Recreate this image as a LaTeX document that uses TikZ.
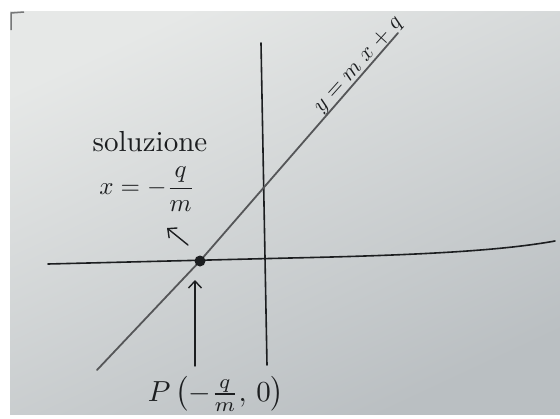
\documentclass[tikz,border=0pt]{standalone}
\usetikzlibrary{arrows.meta}
\definecolor{paperA}{RGB}{230,232,231}
\definecolor{paperB}{RGB}{186,191,194}
\definecolor{ink}{RGB}{28,30,32}
\tikzset{
  axisline/.style={ink, line width=1.6pt, line cap=round},
  graphline/.style={ink!75, line width=1.8pt, line cap=round},
  hand/.style={ink, inner sep=0pt},
  pointer/.style={ink, line width=1.4pt, line cap=round, -{Straight Barb[length=7pt,width=13pt]}},
}
\begin{document}
\begin{tikzpicture}[x=1pt,y=-1pt]
% page and paper
\fill[white] (0,0) rectangle (560,418);
\shade[top color=paperA, bottom color=paperB, shading angle=25] (10,11) rectangle (560,414);
\draw[ink!60, line width=1.5pt] (11,30) -- (11,13) -- (24,12);
% key points
\coordinate (xl) at (48,264);
\coordinate (xm) at (290,258);
\coordinate (xr) at (555,241);
\coordinate (yt) at (261,43);
\coordinate (yb) at (267,365);
\coordinate (dot) at (200,261);
\coordinate (lb) at (97,370);
\coordinate (lt) at (398,33);
\coordinate (ptail) at (195,366);
\coordinate (stail) at (188,245);
\coordinate (shead) at (167,228);
% axes
\draw[axisline] (xl) -- (xm) .. controls (430,255) and (505,250) .. (xr);
\draw[axisline] (yt) -- (yb);
% the line
\draw[graphline] (lb) -- (dot) -- (lt);
\fill[ink] (dot) circle (5.5);
% labels
\node[hand, anchor=base, rotate=48, scale=2.25] (eq) at (362,68) {$y\;{=}\;m\;x\;{+}\;q$};
\node[hand, scale=2.9] (sol) at (150,142) {soluzione};
\node[hand, scale=2.5] (xs) at (147,189) {$\displaystyle x=-\frac{q}{m}$};
\node[hand, scale=2.9] (pl) at (216,394) {$P\left(-\frac{q}{m},\,0\right)$};
% pointers
\draw[pointer, shorten >=19pt] (ptail) -- (ptail |- dot);
\draw[pointer] (stail) -- (shead);
\end{tikzpicture}
\end{document}
